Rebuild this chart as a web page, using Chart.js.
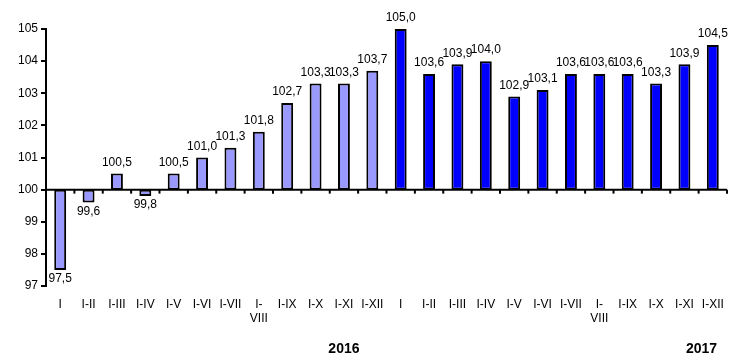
<!DOCTYPE html>
<html>
<head>
<meta charset="utf-8">
<script src="https://cdn.jsdelivr.net/npm/chart.js@4"></script>
<style>
html,body{margin:0;padding:0;background:#fff}
#wrap{width:739px;height:360px;position:relative}
</style>
</head>
<body>
<div id="wrap"><canvas id="c"></canvas></div>
<script>
const months=["I","I-II","I-III","I-IV","I-V","I-VI","I-VII",["I-","VIII"],"I-IX","I-X","I-XI","I-XII"]
const labels=months.concat(months)
const values2016=[97.5,99.6,100.5,99.8,100.5,101.0,101.3,101.8,102.7,103.3,103.3,103.7]
const values2017=[105.0,103.6,103.9,104.0,102.9,103.1,103.6,103.6,103.6,103.3,103.9,104.5]
const yTicks=[97,98,99,100,101,102,103,104,105]
const baseLine=100
const years=[{text:"2016",at:10},{text:"2017",at:22.6}]

const allValues=values2016.concat(values2017)
const colors=values2016.map(()=> "#9999ff").concat(values2017.map(()=> "#0000ff"))

const font="'Liberation Sans', Arial, sans-serif"
Chart.defaults.font.family=font
Chart.defaults.font.size=12
Chart.defaults.color="#000"

// line at 100 with small ticks between categories, value labels, year labels
const extras={
id:"extras",
afterDatasetsDraw(chart){
const ctx=chart.ctx
const x=chart.scales.x
const y=chart.scales.y
const y0=y.getPixelForValue(baseLine)
const area=chart.chartArea
ctx.save()
ctx.strokeStyle="#000"
ctx.lineWidth=2
ctx.beginPath()
ctx.moveTo(area.left,y0)
ctx.lineTo(area.right,y0)
ctx.stroke()
for(let i=0;i<labels.length;i++){
let px=(x.getPixelForValue(i)+x.getPixelForValue(i+1))/2
if(i==labels.length-1) px=area.right
ctx.beginPath()
ctx.moveTo(px,y0)
ctx.lineTo(px,y0+4)
ctx.stroke()
}
ctx.fillStyle="#000"
ctx.font="12px "+font
ctx.textAlign="center"
allValues.forEach((v,i)=>{
const px=x.getPixelForValue(i)
const t=v.toFixed(1).replace(".",",")
if(v>=baseLine){
ctx.textBaseline="bottom"
ctx.fillText(t,px,y.getPixelForValue(v)-5)
}else{
ctx.textBaseline="top"
ctx.fillText(t,px,y.getPixelForValue(v)+3)
}
})
ctx.font="bold 14px "+font
ctx.textBaseline="middle"
years.forEach(yr=>{
const i=Math.floor(yr.at)
const f=yr.at-i
const px=x.getPixelForValue(i)+f*(x.getPixelForValue(i+1)-x.getPixelForValue(i))
ctx.fillText(yr.text,px,349)
})
ctx.restore()
}
}

new Chart(document.getElementById("c"),{
type:"bar",
data:{
labels:labels,
datasets:[{
data:allValues.map(v=>[baseLine,v]),
backgroundColor:colors,
borderColor:"#000",
borderWidth:2,
borderSkipped:false,
barPercentage:0.42,
categoryPercentage:1
}]
},
options:{
responsive:true,
maintainAspectRatio:false,
animation:false,
layout:{padding:{top:29,right:12,left:0,bottom:0}},
plugins:{legend:{display:false},tooltip:{enabled:false}},
scales:{
x:{
grid:{display:false,drawTicks:false},
border:{display:false},
ticks:{padding:11,maxRotation:0,autoSkip:false,font:{size:12}},
afterFit(s){s.height=74}
},
y:{
min:97,max:105,
afterBuildTicks(s){s.ticks=yTicks.map(v=>({value:v}))},
grid:{drawOnChartArea:false,drawTicks:true,tickLength:5,color:"#000",lineWidth:2},
border:{display:true,color:"#000",width:2},
ticks:{padding:3,font:{size:12}},
afterFit(s){s.width=46}
}
}
},
plugins:[extras]
})
</script>
</body>
</html>
